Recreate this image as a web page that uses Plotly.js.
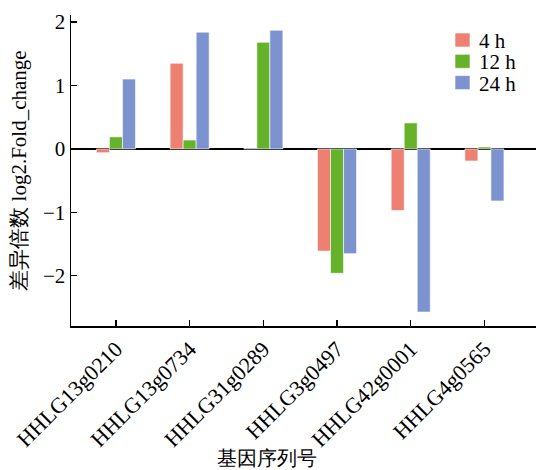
<!DOCTYPE html>
<html><head><meta charset="utf-8">
<script src="https://cdn.plot.ly/plotly-3.0.1.min.js"></script>
<style>html,body{margin:0;padding:0;background:#fff}#c{width:536px;height:470px}</style>
</head><body><div id="c"></div>
<script>
const genes = ["HHLG13g0210","HHLG13g0734","HHLG31g0289","HHLG3g0497","HHLG42g0001","HHLG4g0565"];
const v4h  = [-0.06, 1.35, 0.005, -1.61, -0.97, -0.19];
const v12h = [0.19, 0.14, 1.68, -1.96, 0.41, 0.03];
const v24h = [1.10, 1.84, 1.87, -1.65, -2.57, -0.82];
const seriesNames = ["4 h","12 h","24 h"];
const colors = ["#EE8072","#66B22A","#7C93D0"];
const F = "Times New Roman, Liberation Serif, DejaVu Serif, serif";
const data = [v4h, v12h, v24h].map((v,i)=>({
  type:'bar', x:genes, y:v, name:seriesNames[i],
  marker:{color:colors[i], line:{color:'rgba(255,255,255,0.6)', width:1}}
}));
// manual legend (decoration), placed in paper coordinates
const W = 465, H = 311, L = 71, T = 15;
const px = x => (x - L) / W, py = y => 1 - (y - T) / H;
const legShapes = [], legAnn = [];
seriesNames.forEach((n,i)=>{
  const yc = 40 + i*21.3;
  legShapes.push({type:'rect', xref:'paper', yref:'paper', x0:px(455), x1:px(470), y0:py(yc-7), y1:py(yc+7),
                  fillcolor:colors[i], line:{color:'rgba(255,255,255,0.6)', width:1}});
  legAnn.push({text:n, xref:'paper', yref:'paper', x:px(477), y:py(yc+1), xanchor:'left', yanchor:'middle',
               showarrow:false, font:{size:21, family:F}});
});
const layout = {
  width:536, height:470,
  margin:{l:L, r:0, t:T, b:144},
  paper_bgcolor:'#fff', plot_bgcolor:'#fff',
  font:{family:F, color:'#000', size:18},
  barmode:'group', bargap:0.47, bargroupgap:0,
  showlegend:false,
  xaxis:{range:[-0.61,5.70], showline:true, linecolor:'#000', linewidth:1.5,
         ticks:'inside', ticklen:6, tickcolor:'#000', tickwidth:1.2,
         tickangle:-45, tickfont:{size:22, family:F}, showgrid:false, zeroline:false},
  yaxis:{range:[-2.79,2.11], tickvals:[-2,-1,0,1,2], showline:true, linecolor:'#000', linewidth:1.5,
         ticks:'inside', ticklen:6, tickcolor:'#000', tickwidth:1.2,
         tickfont:{size:21, family:F}, showgrid:false,
         zeroline:true, zerolinecolor:'#000', zerolinewidth:1.5,
         title:{text:'差异倍数 log2.Fold_change', font:{size:21, family:F}, standoff:10}},
  shapes:legShapes,
  annotations:[{text:'基因序列号', xref:'paper', yref:'paper', x:px(267), y:py(458),
                xanchor:'center', yanchor:'middle', showarrow:false, font:{size:20, family:F}}].concat(legAnn)
};
Plotly.newPlot('c', data, layout, {displayModeBar:false, staticPlot:true});
</script></body></html>
